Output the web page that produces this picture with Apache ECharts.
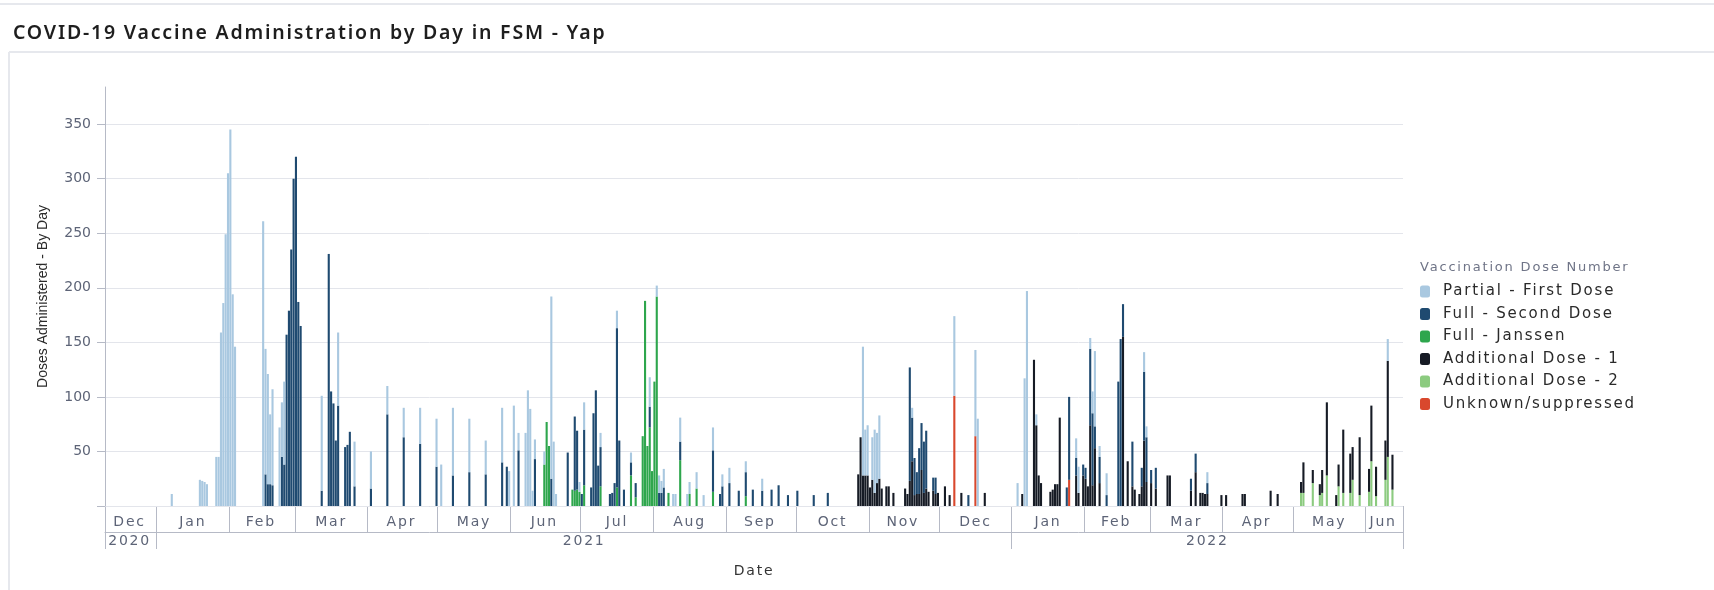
<!DOCTYPE html>
<html>
<head>
<meta charset="utf-8">
<title>COVID-19 Vaccine Administration by Day in FSM - Yap</title>
<script src="https://cdn.jsdelivr.net/npm/echarts@6/dist/echarts.min.js"></script>
<style>
  html, body { margin: 0; padding: 0; background: #fff; }
  #chart { width: 1714px; height: 590px; }
</style>
</head>
<body>
<div id="chart"></div>
<script>
// Doses per day, one [date, doses] pair per day that had any; other days are empty.
const partialFirst = [
  ['2021-01-07', 11], ['2021-01-19', 24], ['2021-01-20', 23], ['2021-01-21', 22], ['2021-01-22', 20],
  ['2021-01-26', 45], ['2021-01-27', 45], ['2021-01-28', 159], ['2021-01-29', 186], ['2021-01-30', 249],
  ['2021-01-31', 305], ['2021-02-01', 345], ['2021-02-02', 194], ['2021-02-03', 146], ['2021-02-15', 261],
  ['2021-02-16', 115], ['2021-02-17', 101], ['2021-02-18', 64], ['2021-02-19', 88], ['2021-02-22', 72],
  ['2021-02-23', 50], ['2021-02-24', 76], ['2021-03-12', 87], ['2021-03-19', 67], ['2021-03-26', 41],
  ['2021-04-02', 34], ['2021-04-09', 26], ['2021-04-16', 27], ['2021-04-23', 33], ['2021-04-30', 44],
  ['2021-05-02', 38], ['2021-05-07', 62], ['2021-05-14', 49], ['2021-05-21', 31], ['2021-05-28', 50],
  ['2021-05-31', 32], ['2021-06-02', 92], ['2021-06-04', 16], ['2021-06-07', 67], ['2021-06-08', 106],
  ['2021-06-09', 89], ['2021-06-10', 14], ['2021-06-11', 18], ['2021-06-15', 12], ['2021-06-18', 167],
  ['2021-06-19', 59], ['2021-06-20', 11], ['2021-06-30', 9], ['2021-07-02', 25], ['2021-07-09', 13],
  ['2021-07-16', 16], ['2021-07-22', 9], ['2021-07-30', 27], ['2021-08-02', 10], ['2021-08-03', 16],
  ['2021-08-04', 11], ['2021-08-05', 17], ['2021-08-09', 11], ['2021-08-10', 11], ['2021-08-12', 22],
  ['2021-08-15', 11], ['2021-08-16', 11], ['2021-08-19', 15], ['2021-08-22', 10], ['2021-08-26', 21],
  ['2021-08-30', 11], ['2021-09-02', 14], ['2021-09-09', 10], ['2021-09-16', 11], ['2021-10-29', 118],
  ['2021-10-30', 42], ['2021-10-31', 46], ['2021-11-02', 39], ['2021-11-03', 58], ['2021-11-04', 46],
  ['2021-11-05', 58], ['2021-11-19', 9], ['2021-12-07', 73], ['2021-12-16', 79], ['2021-12-17', 80],
  ['2022-01-03', 21], ['2022-01-06', 117], ['2022-01-07', 197], ['2022-01-11', 10], ['2022-01-28', 18],
  ['2022-01-29', 24], ['2022-02-03', 10], ['2022-02-04', 20], ['2022-02-05', 69], ['2022-02-07', 10],
  ['2022-02-10', 20], ['2022-02-26', 18], ['2022-02-27', 10], ['2022-03-25', 10], ['2022-06-10', 20]
];
const fullSecond = [
  ['2021-02-16', 29], ['2021-02-17', 20], ['2021-02-18', 20], ['2021-02-19', 19], ['2021-02-23', 45],
  ['2021-02-24', 38], ['2021-02-25', 157], ['2021-02-26', 179], ['2021-02-27', 235], ['2021-02-28', 300],
  ['2021-03-01', 320], ['2021-03-02', 187], ['2021-03-03', 165], ['2021-03-12', 14], ['2021-03-15', 231],
  ['2021-03-16', 105], ['2021-03-17', 94], ['2021-03-18', 60], ['2021-03-19', 92], ['2021-03-22', 54],
  ['2021-03-23', 56], ['2021-03-24', 68], ['2021-03-26', 18], ['2021-04-02', 16], ['2021-04-09', 84],
  ['2021-04-16', 63], ['2021-04-23', 57], ['2021-04-30', 36], ['2021-05-07', 28], ['2021-05-14', 31],
  ['2021-05-21', 29], ['2021-05-28', 40], ['2021-05-30', 36], ['2021-06-04', 51], ['2021-06-11', 43],
  ['2021-06-18', 25], ['2021-06-25', 49], ['2021-06-28', 68], ['2021-06-29', 54], ['2021-07-01', 11],
  ['2021-07-02', 51], ['2021-07-05', 17], ['2021-07-06', 85], ['2021-07-07', 106], ['2021-07-08', 37],
  ['2021-07-09', 36], ['2021-07-13', 11], ['2021-07-14', 12], ['2021-07-15', 21], ['2021-07-16', 146],
  ['2021-07-17', 60], ['2021-07-19', 15], ['2021-07-22', 12], ['2021-07-24', 13], ['2021-07-30', 19],
  ['2021-08-03', 12], ['2021-08-04', 12], ['2021-08-05', 17], ['2021-08-12', 17], ['2021-08-26', 38],
  ['2021-08-29', 11], ['2021-08-30', 18], ['2021-09-02', 21], ['2021-09-06', 14], ['2021-09-09', 22],
  ['2021-09-12', 15], ['2021-09-16', 14], ['2021-09-20', 15], ['2021-09-23', 19], ['2021-09-27', 10],
  ['2021-10-01', 14], ['2021-10-08', 10], ['2021-10-14', 12], ['2021-11-18', 104], ['2021-11-19', 40],
  ['2021-11-20', 34], ['2021-11-21', 20], ['2021-11-22', 42], ['2021-11-23', 43], ['2021-11-24', 47],
  ['2021-11-25', 53], ['2021-11-28', 12], ['2021-11-29', 15], ['2021-12-13', 10], ['2022-01-24', 17],
  ['2022-01-25', 76], ['2022-01-28', 16], ['2022-01-31', 10], ['2022-02-01', 10], ['2022-02-03', 70],
  ['2022-02-04', 66], ['2022-02-05', 20], ['2022-02-07', 24], ['2022-02-10', 10], ['2022-02-15', 114],
  ['2022-02-16', 153], ['2022-02-17', 30], ['2022-02-21', 41], ['2022-02-25', 17], ['2022-02-26', 63],
  ['2022-02-27', 41], ['2022-03-01', 12], ['2022-03-03', 19], ['2022-03-18', 11], ['2022-03-20', 17],
  ['2022-03-25', 10]
];
const fullJanssen = [
  ['2021-06-15', 38], ['2021-06-16', 77], ['2021-06-17', 55], ['2021-06-27', 15], ['2021-06-28', 14],
  ['2021-06-29', 15], ['2021-06-30', 13], ['2021-07-02', 19], ['2021-07-09', 18], ['2021-07-16', 17],
  ['2021-07-22', 28], ['2021-07-24', 8], ['2021-07-27', 64], ['2021-07-28', 188], ['2021-07-29', 55],
  ['2021-07-30', 72], ['2021-07-31', 32], ['2021-08-01', 114], ['2021-08-02', 192], ['2021-08-07', 12],
  ['2021-08-12', 42], ['2021-08-16', 11], ['2021-08-19', 16], ['2021-08-26', 13], ['2021-09-09', 9]
];
const additional1 = [
  ['2021-10-27', 29], ['2021-10-28', 63], ['2021-10-29', 28], ['2021-10-30', 28], ['2021-10-31', 28],
  ['2021-11-01', 17], ['2021-11-02', 24], ['2021-11-03', 12], ['2021-11-04', 21], ['2021-11-05', 25],
  ['2021-11-06', 16], ['2021-11-08', 18], ['2021-11-09', 18], ['2021-11-11', 12], ['2021-11-16', 16],
  ['2021-11-17', 11], ['2021-11-18', 23], ['2021-11-19', 41], ['2021-11-20', 10], ['2021-11-21', 11],
  ['2021-11-22', 11], ['2021-11-23', 33], ['2021-11-24', 12], ['2021-11-25', 16], ['2021-11-26', 13],
  ['2021-11-28', 14], ['2021-11-29', 11], ['2021-11-30', 12], ['2021-12-03', 18], ['2021-12-05', 10],
  ['2021-12-10', 12], ['2021-12-20', 12], ['2022-01-05', 11], ['2022-01-10', 134], ['2022-01-11', 74],
  ['2022-01-12', 28], ['2022-01-13', 21], ['2022-01-17', 13], ['2022-01-18', 15], ['2022-01-19', 20],
  ['2022-01-20', 20], ['2022-01-21', 81], ['2022-01-28', 28], ['2022-01-29', 12], ['2022-01-31', 28],
  ['2022-02-01', 25], ['2022-02-02', 18], ['2022-02-03', 74], ['2022-02-04', 19], ['2022-02-05', 53],
  ['2022-02-07', 21], ['2022-02-17', 155], ['2022-02-19', 41], ['2022-02-21', 18], ['2022-02-22', 15],
  ['2022-02-24', 11], ['2022-02-25', 18], ['2022-02-26', 60], ['2022-02-27', 22], ['2022-03-01', 21],
  ['2022-03-03', 16], ['2022-03-08', 28], ['2022-03-09', 28], ['2022-03-18', 14], ['2022-03-20', 31],
  ['2022-03-22', 12], ['2022-03-23', 12], ['2022-03-24', 11], ['2022-03-25', 11], ['2022-03-31', 10],
  ['2022-04-02', 10], ['2022-04-09', 11], ['2022-04-10', 11], ['2022-04-21', 14], ['2022-04-24', 11],
  ['2022-05-04', 10], ['2022-05-05', 28], ['2022-05-09', 12], ['2022-05-12', 10], ['2022-05-13', 21],
  ['2022-05-15', 67], ['2022-05-19', 10], ['2022-05-20', 20], ['2022-05-22', 58], ['2022-05-25', 36],
  ['2022-05-26', 30], ['2022-05-29', 53], ['2022-06-02', 21], ['2022-06-03', 51], ['2022-06-05', 27],
  ['2022-06-09', 36], ['2022-06-10', 88], ['2022-06-12', 32]
];
const additional2 = [
  ['2022-05-04', 12], ['2022-05-05', 12], ['2022-05-09', 21], ['2022-05-12', 10], ['2022-05-13', 12],
  ['2022-05-15', 28], ['2022-05-20', 18], ['2022-05-22', 12], ['2022-05-25', 12], ['2022-05-26', 24],
  ['2022-05-29', 10], ['2022-06-02', 13], ['2022-06-03', 41], ['2022-06-05', 9], ['2022-06-09', 24],
  ['2022-06-10', 45], ['2022-06-12', 15]
];
const unknownSuppressed = [
  ['2021-12-07', 101], ['2021-12-16', 64], ['2022-01-25', 24]
];

const monthNames = ['Jan', 'Feb', 'Mar', 'Apr', 'May', 'Jun', 'Jul', 'Aug', 'Sep', 'Oct', 'Nov', 'Dec'];
const firstDay = '2020-12-10';
const lastDay = '2022-06-16';

const axisGrey = '#b6bac6';
const labelGrey = '#5d6477';

// one category per calendar day
const days = [];
for (let t = Date.parse(firstDay); t <= Date.parse(lastDay); t += 86400000) {
  days.push(new Date(t).toISOString().slice(0, 10));
}
const dayIndex = {};
days.forEach((d, i) => { dayIndex[d] = i; });

function fill(pairs) {
  const out = days.map(() => null);
  pairs.forEach(([d, v]) => { out[dayIndex[d]] = v; });
  return out;
}

// month / year blocks: a tick at each block start, a label at each block's middle
function blocks(keyFn, nameFn) {
  const ticks = new Set();
  const labels = {};
  let start = 0;
  for (let i = 1; i <= days.length; i++) {
    if (i === days.length || keyFn(days[i]) !== keyFn(days[start])) {
      ticks.add(start);
      labels[Math.floor((start + i - 1) / 2)] = nameFn(days[start]);
      start = i;
    }
  }
  return { ticks, labels };
}
const months = blocks(d => d.slice(0, 7), d => monthNames[+d.slice(5, 7) - 1]);
const years = blocks(d => d.slice(0, 4), d => d.slice(0, 4));

const seriesDefs = [
  // stacked bottom to top
  { name: 'Unknown/suppressed', data: unknownSuppressed, color: '#d9482d' },
  { name: 'Additional Dose - 2', data: additional2, color: '#8ccb80' },
  { name: 'Additional Dose - 1', data: additional1, color: '#161b25' },
  { name: 'Full - Janssen', data: fullJanssen, color: '#2ea64d' },
  { name: 'Full - Second Dose', data: fullSecond, color: '#1f4a70' },
  { name: 'Partial - First Dose', data: partialFirst, color: '#a9c8e0' }
];

const chart = echarts.init(document.getElementById('chart'), null, { renderer: 'canvas' });

chart.setOption({
  animation: false,
  backgroundColor: '#fff',
  title: [
    {
      text: 'COVID-19 Vaccine Administration by Day in FSM - Yap',
      left: 13, top: 23, padding: 0,
      textStyle: { fontFamily: 'Noto Sans', fontSize: 19.5, fontWeight: 600, color: '#1e1e1e' }
    },
    {
      text: 'Vaccination Dose Number',
      left: 1420, top: 261, padding: 0,
      textStyle: { fontFamily: 'DejaVu Sans', fontSize: 13, fontWeight: 'normal', color: '#6f7487' }
    }
  ],
  legend: {
    orient: 'vertical',
    left: 1420, top: 284, padding: 0,
    itemWidth: 10, itemHeight: 12, itemGap: 7.5,
    icon: 'roundRect',
    data: ['Partial - First Dose', 'Full - Second Dose', 'Full - Janssen',
           'Additional Dose - 1', 'Additional Dose - 2', 'Unknown/suppressed'],
    textStyle: { fontFamily: 'DejaVu Sans', fontSize: 15, color: '#2a2a2a', padding: [0, 0, 0, 8] }
  },
  grid: { left: 105, right: 311, top: 87, bottom: 84, containLabel: false },
  xAxis: [
    {
      type: 'category', data: days, position: 'bottom',
      axisLine: { show: true, lineStyle: { color: axisGrey } },
      axisTick: { show: true, alignWithLabel: false, interval: i => months.ticks.has(i), length: 26, lineStyle: { color: axisGrey } },
      axisLabel: {
        interval: i => i in months.labels,
        formatter: (v, i) => months.labels[i] || '',
        margin: 9, fontFamily: 'DejaVu Sans', fontSize: 14, color: labelGrey
      },
      name: 'Date', nameLocation: 'middle', nameGap: 58,
      nameTextStyle: { fontFamily: 'DejaVu Sans', fontSize: 14, color: '#333' }
    },
    {
      type: 'category', data: days, position: 'bottom', offset: 26,
      axisLine: { show: true, lineStyle: { color: axisGrey } },
      axisTick: { show: true, alignWithLabel: false, interval: i => years.ticks.has(i), length: 17, lineStyle: { color: axisGrey } },
      axisLabel: {
        interval: i => i in years.labels,
        formatter: (v, i) => years.labels[i] || '',
        margin: 2, fontFamily: 'DejaVu Sans', fontSize: 14, color: labelGrey
      }
    }
  ],
  // value axis and bars on their own canvas layer, so the label spacing below skips them
  yAxis: {
    type: 'value', min: 0, max: 384, interval: 50, zlevel: 1,
    axisLine: { show: true, lineStyle: { color: axisGrey } },
    axisTick: { show: true, length: 8, lineStyle: { color: axisGrey } },
    axisLabel: {
      showMaxLabel: false, margin: 14,
      formatter: v => (v === 0 || v % 50 !== 0) ? '' : String(v),
      fontFamily: 'DejaVu Sans', fontSize: 14, color: labelGrey
    },
    splitLine: { show: true, showMaxLine: false, lineStyle: { color: '#e3e5eb' } },
    name: 'Doses Administered - By Day', nameLocation: 'middle', nameGap: 55, nameRotate: 90,
    nameTextStyle: { fontFamily: 'Liberation Sans', fontSize: 14, color: '#2a2a2a' }
  },
  graphic: [
    { type: 'line', shape: { x1: 0, y1: 4, x2: 1714, y2: 4 }, style: { stroke: '#e6e8ed', lineWidth: 2 } },
    { type: 'line', shape: { x1: 9, y1: 52, x2: 1714, y2: 52 }, style: { stroke: '#e6e8ed', lineWidth: 2 } },
    { type: 'line', shape: { x1: 9, y1: 52, x2: 9, y2: 590 }, style: { stroke: '#e6e8ed', lineWidth: 2 } }
  ],
  series: seriesDefs.map(s => ({
    name: s.name,
    type: 'bar',
    stack: 'doses',
    zlevel: 1,
    xAxisIndex: 0,
    barCategoryGap: '10%',
    itemStyle: { color: s.color },
    data: fill(s.data)
  }))
});

// the original spaces its letters out: widen text on the base layer and repaint it
try {
  const painter = chart.getZr().painter;
  const base = painter.getLayer(0);
  base.ctx.letterSpacing = '1.8px';
  painter.refresh(true);
} catch (e) { }
</script>
</body>
</html>
